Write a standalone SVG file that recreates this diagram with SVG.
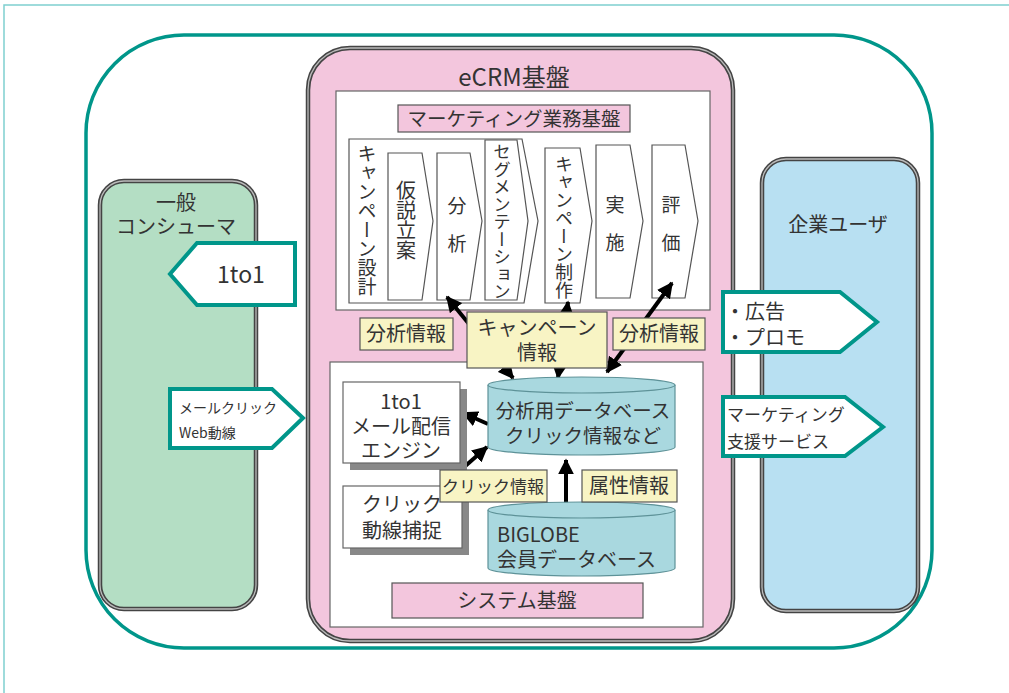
<svg xmlns="http://www.w3.org/2000/svg" width="1009" height="693" viewBox="0 0 1009 693">
<defs>
<marker id="ah" viewBox="0 0 10 10" refX="9" refY="5" markerWidth="4" markerHeight="4" orient="auto-start-reverse" markerUnits="strokeWidth"><path d="M0,0 L10,5 L0,10 Z" fill="#000"/></marker>
<style>
text{font-family:"Noto Sans CJK JP","Noto Sans",sans-serif;fill:#333;}
.c{text-anchor:middle;}
.v{writing-mode:vertical-rl;text-anchor:start;}
.dbl{stroke:#444;stroke-width:4.5;}
.dbl2{fill:none;stroke:#bbb;stroke-width:1.3;}
.pink{fill:#f3c6dd;}
.wbox{fill:#fff;stroke:#666;stroke-width:1.2;}
.step{fill:#fff;stroke:#555;stroke-width:1.2;}
.lbl{fill:#f8f4c4;stroke:#555;stroke-width:1.2;}
.sub{fill:#f3c6dd;stroke:#555;stroke-width:1.2;}
.db{fill:#a9d8df;stroke:#5e9298;stroke-width:1.2;}
.tarrow{fill:#fff;stroke:#00968a;stroke-width:4;stroke-linejoin:miter;}
.conn{stroke:#000;stroke-width:4;fill:none;marker-end:url(#ah);}
.conn2{stroke:#000;stroke-width:4;fill:none;marker-start:url(#ah);marker-end:url(#ah);}
</style>
</defs>
<rect width="1009" height="693" fill="#fff"/>
<path d="M4,693 V5 H1009" fill="none" stroke="#7fd0d0" stroke-width="1.5"/>

<g id="outer">
<rect x="86" y="35" width="846" height="613" rx="98" ry="98" fill="#fff" stroke="#00968a" stroke-width="3.5"/>
</g>

<g id="consumer">
<rect x="100" y="181" width="156" height="428" rx="24" fill="#b4dec4" class="dbl"/>
<rect x="100" y="181" width="156" height="428" rx="24" class="dbl2"/>
<text class="c" font-size="20"><tspan x="176" y="210">一般</tspan><tspan x="176" y="234">コンシューマ</tspan></text>
</g>

<g id="enterprise">
<rect x="762" y="159" width="156" height="452" rx="24" fill="#b8e0f2" class="dbl"/>
<rect x="762" y="159" width="156" height="452" rx="24" class="dbl2"/>
<text x="838" y="232" class="c" font-size="20">企業ユーザ</text>
</g>

<g id="ecrm">
<rect x="308" y="48" width="425" height="593" rx="42" class="pink dbl"/>
<rect x="308" y="48" width="425" height="593" rx="42" class="dbl2"/>
<text x="514" y="86" class="c" font-size="24">eCRM基盤</text>
</g>

<g id="marketing-base">
<rect x="336" y="91" width="374" height="219" class="wbox"/>
<rect x="398" y="105" width="232" height="27" class="sub"/>
<text x="514" y="126" class="c" font-size="19.5">マーケティング業務基盤</text>
</g>

<g id="campaign-design">
<path d="M349,139 H522 L538,221 L524,303 H349 Z" class="step"/>
<text x="367" y="144" class="v" font-size="19">キャンペーン設計</text>
</g>
<g id="hypothesis">
<path d="M388,153 H422 L433,221 L422,300 H388 Z" class="step"/>
<text x="406" y="180" class="v" font-size="20">仮説立案</text>
</g>
<g id="analysis">
<path d="M437,153 H470 L482,221 L470,300 H437 Z" class="step"/>
<text class="c" font-size="19"><tspan x="457" y="213">分</tspan><tspan x="457" y="251">析</tspan></text>
</g>
<g id="segmentation">
<path d="M485,140 H517 L528,221 L517,300 H485 Z" class="step"/>
<text x="502" y="143" class="v" font-size="17.5">セグメンテーション</text>
</g>
<g id="campaign-make">
<path d="M545,148 H580 L592,221 L580,303 H545 Z" class="step"/>
<text x="564" y="155" class="v" font-size="18">キャンペーン制作</text>
</g>
<g id="execute">
<path d="M596,145 H630 L643,221 L630,298 H596 Z" class="step"/>
<text class="c" font-size="19"><tspan x="615" y="212">実</tspan><tspan x="615" y="250">施</tspan></text>
</g>
<g id="evaluate">
<path d="M652,145 H685 L698,221 L685,298 H652 Z" class="step"/>
<text class="c" font-size="19"><tspan x="671" y="212">評</tspan><tspan x="671" y="250">価</tspan></text>
</g>

<g id="system-base">
<rect x="330" y="362" width="373" height="265" class="wbox"/>
<rect x="392" y="583" width="251" height="35" class="sub"/>
<text x="517" y="608" class="c" font-size="20">システム基盤</text>
</g>

<g id="connectors">
<line x1="513" y1="378" x2="447" y2="297" class="conn2"/>
<line x1="558" y1="378" x2="568" y2="302" class="conn2"/>
<line x1="607" y1="372" x2="672" y2="283" class="conn2"/>
<line x1="488" y1="424" x2="463" y2="413" class="conn"/>
<line x1="463" y1="468" x2="487" y2="447" class="conn"/>
<line x1="566" y1="504" x2="566" y2="460" class="conn"/>
</g>

<g id="campaign-info">
<rect x="467" y="312" width="140" height="56" class="lbl"/>
<text class="c" font-size="20"><tspan x="537" y="335">キャンペーン</tspan><tspan x="537" y="360">情報</tspan></text>
</g>
<g id="analysis-info-left">
<rect x="360" y="318" width="93" height="32" class="lbl"/>
<text x="406" y="341" class="c" font-size="20">分析情報</text>
</g>
<g id="analysis-info-right">
<rect x="613" y="318" width="92" height="32" class="lbl"/>
<text x="659" y="341" class="c" font-size="20">分析情報</text>
</g>

<g id="analysis-db">
<path d="M488,385 A93.5,8 0 0 1 675,385 V447 A93.5,8 0 0 1 488,447 Z" class="db"/>
<path d="M488,385 A93.5,8 0 0 0 675,385" class="db" fill="none"/>
<text class="c" font-size="19.5"><tspan x="583" y="418">分析用データベース</tspan><tspan x="583" y="443">クリック情報など</tspan></text>
</g>

<g id="biglobe-db">
<path d="M488,510 A93.5,8 0 0 1 675,510 V568 A93.5,8 0 0 1 488,568 Z" class="db"/>
<path d="M488,510 A93.5,8 0 0 0 675,510" class="db" fill="none"/>
<text font-size="20"><tspan x="497" y="542">BIGLOBE</tspan><tspan x="497" y="567">会員データベース</tspan></text>
</g>

<g id="mail-engine">
<rect x="350" y="389" width="117" height="81" fill="#888"/>
<rect x="343" y="382" width="117" height="81" class="wbox"/>
<text class="c" font-size="20"><tspan x="401" y="409">1to1</tspan><tspan x="401" y="434">メール配信</tspan><tspan x="401" y="458">エンジン</tspan></text>
</g>

<g id="click-capture">
<rect x="350" y="493" width="119" height="62" fill="#888"/>
<rect x="343" y="486" width="119" height="62" class="wbox"/>
<text class="c" font-size="20"><tspan x="402" y="512">クリック</tspan><tspan x="402" y="538">動線捕捉</tspan></text>
</g>

<g id="click-info">
<rect x="440" y="470" width="107" height="32" class="lbl"/>
<text x="493" y="493" class="c" font-size="17">クリック情報</text>
</g>
<g id="attr-info">
<rect x="582" y="470" width="95" height="32" class="lbl"/>
<text x="629" y="493" class="c" font-size="20">属性情報</text>
</g>

<g id="arrow-1to1">
<path d="M295,243 H197 L170,274 L197,305 H295 Z" class="tarrow"/>
<text x="241" y="283" class="c" font-size="23">1to1</text>
</g>
<g id="arrow-mailclick">
<path d="M170,389 H272 L303,418 L272,448 H170 Z" class="tarrow"/>
<text font-size="14"><tspan x="179" y="413">メールクリック</tspan><tspan x="179" y="438">Web動線</tspan></text>
</g>
<g id="arrow-ad">
<path d="M723,292 H840 L877,322 L840,352 H723 Z" class="tarrow"/>
<text font-size="20"><tspan x="725" y="319">・広告</tspan><tspan x="725" y="345">・プロモ</tspan></text>
</g>
<g id="arrow-support">
<path d="M723,397 H845 L883,427 L845,456 H723 Z" class="tarrow"/>
<text font-size="17"><tspan x="727" y="421">マーケティング</tspan><tspan x="727" y="448">支援サービス</tspan></text>
</g>
</svg>
